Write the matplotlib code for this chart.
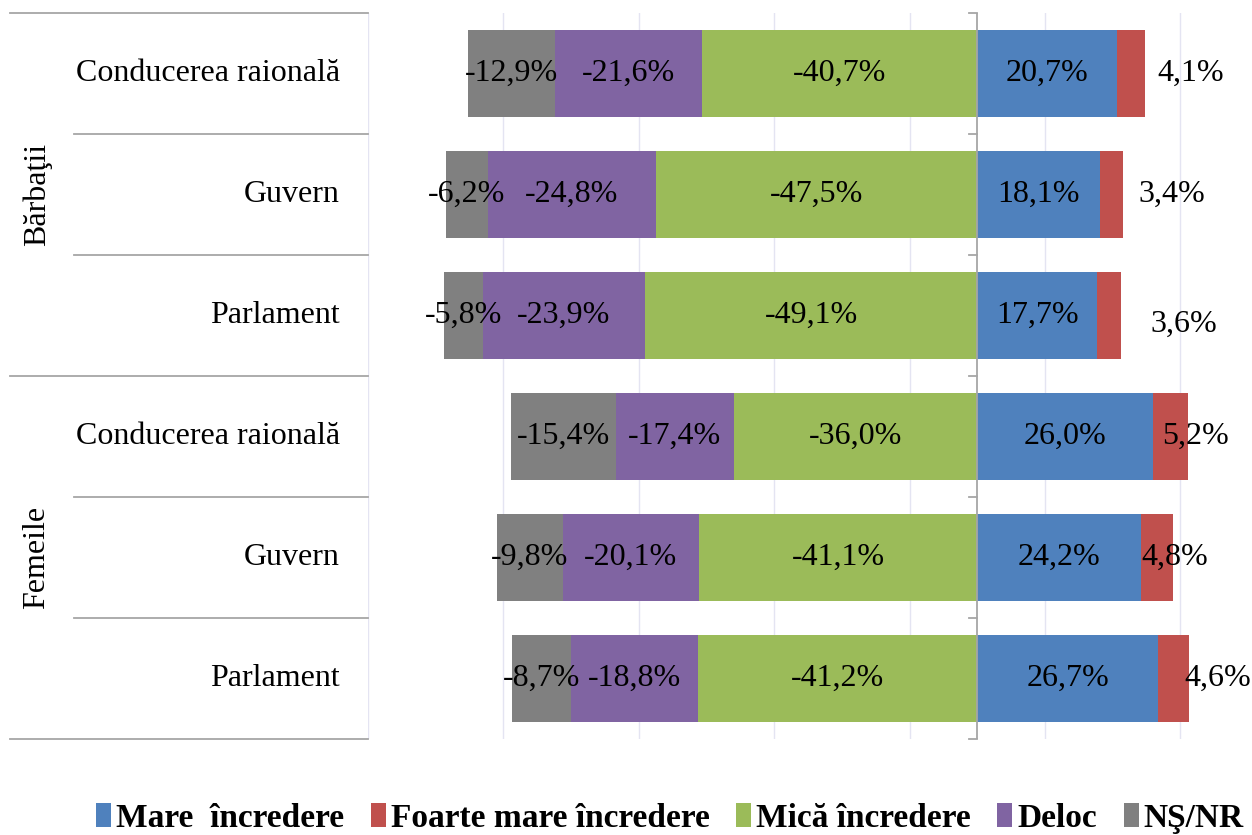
import matplotlib.pyplot as plt
import matplotlib.transforms as mtransforms
from matplotlib.patches import Patch

plt.rcParams['font.family'] = ['Liberation Serif', 'DejaVu Serif']

groups = ['Bărbaţii', 'Femeile']
institutions = ['Conducerea raională', 'Guvern', 'Parlament']

# rows top -> bottom: Barbatii (3), Femeile (3)
mare = [20.7, 18.1, 17.7, 26.0, 24.2, 26.7]
foarte_mare = [4.1, 3.4, 3.6, 5.2, 4.8, 4.6]
mica = [40.7, 47.5, 49.1, 36.0, 41.1, 41.2]
deloc = [21.6, 24.8, 23.9, 17.4, 20.1, 18.8]
ns_nr = [12.9, 6.2, 5.8, 15.4, 9.8, 8.7]

legend_labels = ['Mare  încredere', 'Foarte mare încredere', 'Mică încredere', 'Deloc', 'NŞ/NR']
colors = ['#4F81BD', '#C0504D', '#9BBB59', '#8064A2', '#808080']

# where the small red-segment labels sit, relative to bar end (data units)
red_dx = [6.8, 7.2, 9.3, 1.0, 0.2, 4.3]
red_dy = [0, 0, 0.07, 0, 0, 0]


def fmt(v):
    return ('%.1f%%' % v).replace('.', ',')


fig = plt.figure(figsize=(12.52, 8.35), dpi=100)
ax = fig.add_axes([368 / 1252, 96 / 835, 884 / 1252, 726 / 835])

n = len(mare)
y = list(range(n))
h = 0.72
fs = 23

left_mica = [-m for m in mica]
left_deloc = [-(m + d) for m, d in zip(mica, deloc)]
left_ns = [-(m + d + s) for m, d, s in zip(mica, deloc, ns_nr)]

ax.barh(y, mare, left=0, height=h, color=colors[0], zorder=3)
ax.barh(y, foarte_mare, left=mare, height=h, color=colors[1], zorder=3)
ax.barh(y, mica, left=left_mica, height=h, color=colors[2], zorder=3)
ax.barh(y, deloc, left=left_deloc, height=h, color=colors[3], zorder=3)
ax.barh(y, ns_nr, left=left_ns, height=h, color=colors[4], zorder=3)

for i in range(n):
    ax.text(mare[i] / 2, i, fmt(mare[i]), ha='center', va='center', fontsize=fs, zorder=4)
    ax.text(-mica[i] / 2, i, fmt(-mica[i]), ha='center', va='center', fontsize=fs, zorder=4)
    ax.text(left_deloc[i] + deloc[i] / 2, i, fmt(-deloc[i]), ha='center', va='center', fontsize=fs, zorder=4)
    ax.text(left_ns[i] + ns_nr[i] / 2, i, fmt(-ns_nr[i]), ha='center', va='center', fontsize=fs, zorder=4)
    ax.text(mare[i] + foarte_mare[i] + red_dx[i], i + red_dy[i], fmt(foarte_mare[i]),
            ha='center', va='center', fontsize=fs, zorder=4)

ax.set_xlim(-90, 40.6)
ax.set_ylim(n - 0.5, -0.5)
ax.set_xticks([-90, -70, -50, -30, -10, 10, 30])
ax.xaxis.grid(True, color='#E4E4F2', linewidth=1)
ax.set_axisbelow(True)
ax.tick_params(axis='both', length=0, labelbottom=False, labelleft=False)
ax.set_yticks([])
for s in ax.spines.values():
    s.set_visible(False)

# zero axis with small ticks at row boundaries
ax.axvline(0, color='#A6A6A6', linewidth=1.3, zorder=5)
for b in range(n + 1):
    ax.plot([-1.2, 0], [b - 0.5, b - 0.5], color='#A6A6A6', linewidth=1.3, zorder=5, clip_on=False)

# hierarchical category axis on the left
trans = mtransforms.blended_transform_factory(ax.transAxes, ax.transData)
x_full = (10 - 368) / 884
x_inner = (74 - 368) / 884
for b in range(n + 1):
    x0 = x_full if b % 3 == 0 else x_inner
    ax.plot([x0, 0], [b - 0.5, b - 0.5], color='#A6A6A6', linewidth=1.3,
            transform=trans, clip_on=False)

for gi, g in enumerate(groups):
    for j, inst in enumerate(institutions):
        ax.text(-0.032, gi * 3 + j, inst, transform=trans, ha='right', va='center', fontsize=fs)
    ax.text((37 - 368) / 884, gi * 3 + 1, g, transform=trans, ha='center', va='center',
            rotation=90, fontsize=fs)

handles = [Patch(facecolor=c) for c in colors]
fig.legend(handles, legend_labels, loc='center', bbox_to_anchor=(0.535, 0.02), ncol=5,
           frameon=False, prop={'weight': 'bold', 'size': 24}, handlelength=0.45,
           handleheight=0.75, handletextpad=0.15, columnspacing=0.8)

fig.savefig('out.png', dpi=100)
